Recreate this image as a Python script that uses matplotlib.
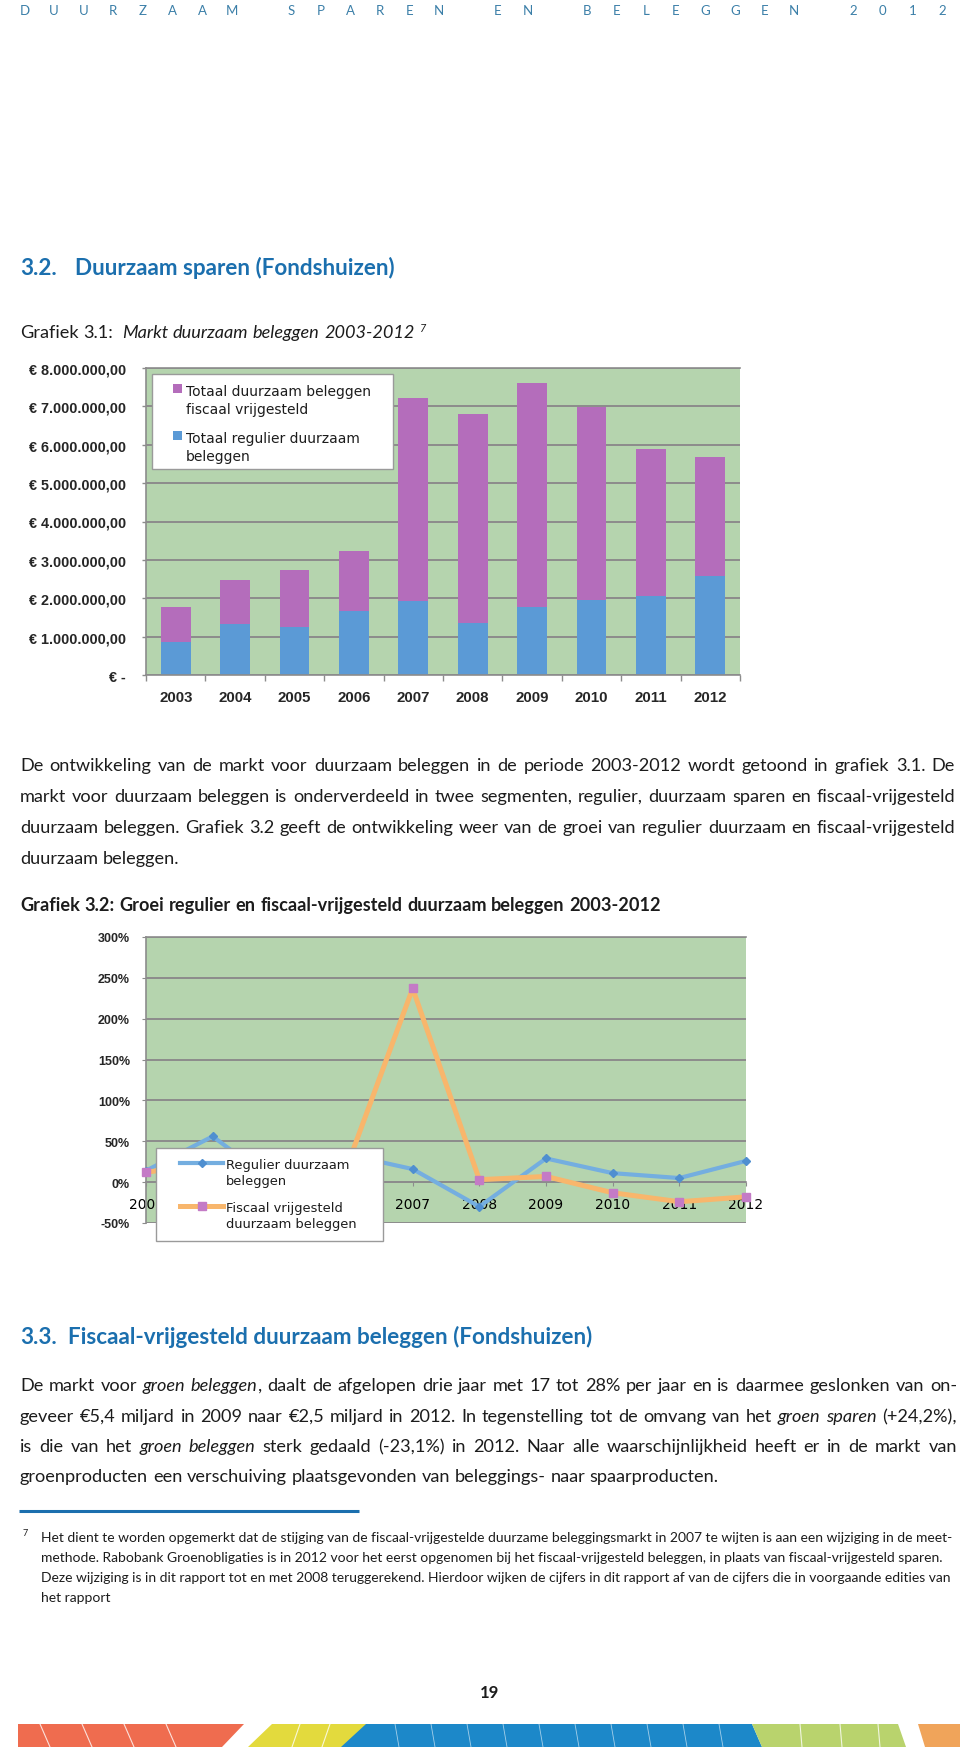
import numpy as np
import matplotlib
matplotlib.use('Agg')
import matplotlib.pyplot as plt
from matplotlib.patches import Rectangle, Polygon
from matplotlib.lines import Line2D

# ---------------- data ----------------
years = ['2003', '2004', '2005', '2006', '2007', '2008', '2009', '2010', '2011', '2012']
regulier_eur = [850000, 1330000, 1260000, 1680000, 1940000, 1360000, 1770000, 1960000, 2050000, 2570000]
fiscaal_eur = [930000, 1150000, 1480000, 1560000, 5280000, 5440000, 5840000, 5020000, 3830000, 3100000]
groei_regulier = [14, 56, -5, 34, 16, -30, 29, 11, 5, 26]
groei_fiscaal = [12, 24, 29, 16, 237, 3, 7, -13, -24, -18]
legend1_labels = ['Totaal duurzaam beleggen\nfiscaal vrijgesteld', 'Totaal regulier duurzaam\nbeleggen']
legend2_labels = ['Regulier duurzaam\nbeleggen', 'Fiscaal vrijgesteld\nduurzaam beleggen']

W, H = 960, 1758
GREEN = '#b5d4ae'
GRID = '#8c8c8c'
BLUE = '#5b9ad6'
MAGENTA = '#b46dbb'
LBLUE = '#74aee0'
DBLUE = '#4f8fd0'
ORANGE = '#f8b66c'
PINK = '#c47bc6'
TXT = '#1c1c1c'
HBLUE = '#1b6fae'
LABFONT = 'Liberation Sans'

fig = plt.figure(figsize=(W / 100, H / 100), dpi=100)
fig.patch.set_facecolor('white')


def px_axes(l, t, r, b, **kw):
    return fig.add_axes([l / W, 1 - b / H, (r - l) / W, (b - t) / H], **kw)


def euro_label(v):
    if abs(v) < 1:
        return '€ -'
    s = f"{v:,.2f}"
    s = s.replace(',', 'X').replace('.', ',').replace('X', '.')
    return '€ ' + s


# ---------------- chart 1 ----------------
ax1 = px_axes(146, 369, 740, 676)
ax1.set_facecolor(GREEN)
x = np.arange(len(years))
ax1.bar(x, regulier_eur, 0.5, color=BLUE, zorder=2)
ax1.bar(x, fiscaal_eur, 0.5, bottom=regulier_eur, color=MAGENTA, zorder=2)
ax1.set_xlim(-0.5, len(years) - 0.5)
ax1.set_ylim(0, 8e6)
yt = np.arange(0, 8e6 + 1, 1e6)
ax1.set_yticks(yt, [euro_label(v) for v in yt], fontsize=10.4, fontweight='bold',
               fontfamily=LABFONT, color='#262626')
ax1.yaxis.grid(True, color=GRID, lw=1.4, zorder=1)
ax1.set_axisbelow(True)
ax1.set_xticks(x, years, fontsize=10.8, fontweight='bold', fontfamily=LABFONT, color='#262626')
ax1.set_xticks(np.arange(-0.5, len(years), 1), minor=True)
ax1.tick_params(axis='x', which='major', length=0, pad=11)
ax1.tick_params(axis='x', which='minor', length=4, color=GRID, width=1)
ax1.tick_params(axis='y', length=3, color=GRID, width=1, pad=11.5)
for s in ['left', 'bottom', 'top']:
    ax1.spines[s].set_color(GRID)
    ax1.spines[s].set_linewidth(1.2)
ax1.spines['right'].set_visible(False)

# ---------------- chart 2 ----------------
C2L, C2R = 146, 746
ax2 = px_axes(C2L, 938, C2R, 1224)
ax2.set_facecolor(GREEN)
ax2.plot(x, groei_regulier, color=LBLUE, lw=3, marker='D', ms=4.5, mfc=DBLUE, mec=DBLUE,
         zorder=3, clip_on=False)
ax2.plot(x, groei_fiscaal, color=ORANGE, lw=3.6, marker='s', ms=5.5, mfc=PINK, mec=PINK,
         zorder=4, clip_on=False)
ax2.set_xlim(0, len(years) - 1)
ax2.set_ylim(-50, 300)
yt2 = np.arange(-50, 301, 50)
ax2.set_yticks(yt2, [f"{int(v)}%" for v in yt2], fontsize=9, fontweight='bold',
               fontfamily=LABFONT, color='#262626')
ax2.yaxis.grid(True, color=GRID, lw=1.4, zorder=1)
ax2.set_axisbelow(True)
ax2.set_xticks(x, years, fontsize=9.7, fontweight='bold', fontfamily=LABFONT, color='#262626')
ax2.spines['bottom'].set_position(('data', 0))
ax2.tick_params(axis='x', length=3, color=GRID, pad=8)
ax2.tick_params(axis='y', length=3, color=GRID, pad=8.6)
for s in ['left', 'bottom', 'top']:
    ax2.spines[s].set_color(GRID)
    ax2.spines[s].set_linewidth(1.2)
ax2.spines['right'].set_visible(False)

# legend box of chart 2 (pixel coords) -- labels fully behind it are not visible
LEG2 = (156, 1149, 383, 1242)
for i, lab in enumerate(ax2.get_xticklabels()):
    px = C2L + i * (C2R - C2L) / (len(years) - 1)
    if LEG2[0] + 8 < px < LEG2[2]:
        lab.set_visible(False)

# ---------------- page overlay ----------------
page = fig.add_axes([0, 0, 1, 1], zorder=10)
page.set_xlim(0, W)
page.set_ylim(H, 0)
page.axis('off')

R = fig.canvas.get_renderer()


def kw_of(kind, family='Lato'):
    d = dict(fontfamily=family)
    if 'i' in kind:
        d['fontstyle'] = 'italic'
    if 'b' in kind:
        d['fontweight'] = 'bold'
    return d


_pipe = {}


def width(s, size, kind='n', family='Lato'):
    key = (size, kind, family)
    if key not in _pipe:
        t = page.text(0, 0, '||', fontsize=size, **kw_of(kind, family))
        _pipe[key] = t.get_window_extent(R).width
        t.remove()
    t = page.text(0, 0, '|' + s + '|', fontsize=size, **kw_of(kind, family))
    w = t.get_window_extent(R).width
    t.remove()
    return w - _pipe[key]


def words_of(runs):
    words = [[]]
    for text, kind in runs:
        for ch in text:
            if ch == ' ':
                if words[-1]:
                    words.append([])
            else:
                if words[-1] and words[-1][-1][1] == kind:
                    words[-1][-1][0] += ch
                else:
                    words[-1].append([ch, kind])
    return [w for w in words if w]


def natural(runs, size, family='Lato'):
    ws = words_of(runs)
    tot = sum(width(s, size, k, family) for w in ws for s, k in w)
    return tot + width(' ', size, runs[0][1], family) * (len(ws) - 1)


def draw_line(x0, yb, runs, size, right=None, color=TXT, family='Lato'):
    ws = words_of(runs)
    wl = [[(s, k, width(s, size, k, family)) for s, k in w] for w in ws]
    tot = sum(p[2] for w in wl for p in w)
    if right is not None and len(ws) > 1:
        gap = (right - x0 - tot) / (len(ws) - 1)
    else:
        gap = width(' ', size, 'n', family)
    xx = x0
    for w in wl:
        for s, k, wd in w:
            page.text(xx, yb, s, fontsize=size, va='baseline', ha='left', color=color,
                      **kw_of(k, family))
            xx += wd
        xx += gap
    return xx - gap


# header (spaced capitals)
header = 'DUURZAAM SPAREN EN BELEGGEN 2012'
pitch = (942 - 24.5) / (len(header) - 1)
for i, ch in enumerate(header):
    if ch != ' ':
        page.text(24.5 + pitch * i, 15, ch, fontsize=9.5, fontfamily='Lato', color='#3b7fa8',
                  ha='center', va='baseline')

# headings
h2 = 'Fiscaal-vrijgesteld duurzaam beleggen (Fondshuizen)'
hsize = 14.0 * (598 - 68) / width(h2, 14.0, 'b')
page.text(20, 275, '3.2.', fontsize=hsize, color=HBLUE, va='baseline', **kw_of('b'))
page.text(75, 275, 'Duurzaam sparen (Fondshuizen)', fontsize=hsize, color=HBLUE, va='baseline',
          **kw_of('b'))
page.text(20, 1344, '3.3.', fontsize=hsize, color=HBLUE, va='baseline', **kw_of('b'))
page.text(68, 1344, h2, fontsize=hsize, color=HBLUE, va='baseline', **kw_of('b'))

# body paragraphs
para1 = [
    [('De ontwikkeling van de markt voor duurzaam beleggen in de periode 2003-2012 wordt getoond in grafiek 3.1. De', 'n')],
    [('markt voor duurzaam beleggen is onderverdeeld in twee segmenten, regulier, duurzaam sparen en fiscaal-vrijgesteld', 'n')],
    [('duurzaam beleggen. Grafiek 3.2 geeft de ontwikkeling weer van de groei van regulier duurzaam en fiscaal-vrijgesteld', 'n')],
    [('duurzaam beleggen.', 'n')],
]
para2 = [
    [('De markt voor ', 'n'), ('groen beleggen', 'i'),
     (', daalt de afgelopen drie jaar met 17 tot 28% per jaar en is  daarmee geslonken van on-', 'n')],
    [('geveer €5,4 miljard in 2009 naar €2,5 miljard in 2012. In tegenstelling tot de omvang van het ', 'n'),
     ('groen sparen', 'i'), (' (+24,2%),', 'n')],
    [('is die van het ', 'n'), ('groen beleggen', 'i'),
     (' sterk gedaald (-23,1%) in 2012. Naar alle waarschijnlijkheid heeft er in de markt van', 'n')],
    [('groenproducten een verschuiving plaatsgevonden van beleggings- naar spaarproducten.', 'n')],
]
bsize = 12.3
mx = max(natural(l, bsize) for l in para1[:3] + para2[:3])
bsize = min(bsize * 928 / mx, 13.6)
for i, (line, yb) in enumerate(zip(para1, [771, 802, 833, 864])):
    draw_line(20, yb, line, bsize, right=955 if i < 3 else None)
for i, (line, yb) in enumerate(zip(para2, [1391, 1422, 1452, 1482])):
    draw_line(20, yb, line, bsize, right=957 if i < 3 else None)

# chart captions
draw_line(20, 338, [('Grafiek 3.1:', 'n')], bsize)
end = draw_line(122, 338, [('Markt duurzaam beleggen 2003-2012', 'i')], bsize)
page.text(end + 5, 332, '7', fontsize=bsize * 0.6, fontfamily='Lato', fontstyle='italic',
          color=TXT, va='baseline')
cap2 = 'Grafiek 3.2: Groei regulier en fiscaal-vrijgesteld duurzaam beleggen 2003-2012'
csize = bsize * (662 - 20) / natural([(cap2, 'b')], bsize)
draw_line(20, 911, [(cap2, 'b')], csize)

# footnote
page.plot([19, 359], [1512, 1512], color=HBLUE, lw=2.2, solid_capstyle='butt')
foot = [
    'Het dient te worden opgemerkt dat de stijging van de fiscaal-vrijgestelde duurzame beleggingsmarkt in 2007 te wijten is aan een wijziging in de meet-',
    'methode. Rabobank Groenobligaties is in 2012 voor het eerst opgenomen bij het fiscaal-vrijgesteld beleggen, in plaats van fiscaal-vrijgesteld sparen.',
    'Deze wijziging is in dit rapport tot en met 2008 teruggerekend. Hierdoor wijken de cijfers in dit rapport af van de cijfers die in voorgaande edities van',
    'het rapport',
]
fsize = 9.0 * (955 - 41) / width(foot[0], 9.0)
page.text(23, 1536, '7', fontsize=fsize * 0.65, fontfamily='Lato', color=TXT, va='baseline')
for line, yb in zip(foot, [1542, 1562, 1582, 1602]):
    page.text(41, yb, line, fontsize=fsize, fontfamily='Lato', color=TXT, va='baseline')

# page number
page.text(490, 1698, '19', fontsize=12, fontfamily='Lato', fontweight='bold', color=TXT,
          ha='center', va='baseline')

# ---------------- legends (drawn on overlay) ----------------
LEGFONT = 'DejaVu Sans'
page.add_patch(Rectangle((152, 375), 241, 95, facecolor='white', edgecolor='#9a9a9a', lw=1))
for (lab, col, yy) in zip(legend1_labels, [MAGENTA, BLUE], [389, 436]):
    page.add_patch(Rectangle((173, yy - 4.5), 9, 9, facecolor=col, edgecolor='none'))
    for j, sub in enumerate(lab.split('\n')):
        page.text(186, yy + 7 + j * 18.5, sub, fontsize=10, fontfamily=LEGFONT, color=TXT,
                  va='baseline')

page.add_patch(Rectangle((LEG2[0], LEG2[1]), LEG2[2] - LEG2[0], LEG2[3] - LEG2[1],
                         facecolor='white', edgecolor='#9a9a9a', lw=1))
leg2 = [(legend2_labels[0], LBLUE, 3, 'D', 4.5, DBLUE, 1164),
        (legend2_labels[1], ORANGE, 3.6, 's', 5.5, PINK, 1207)]
for lab, lc, lw, mk, ms, mc, yy in leg2:
    page.add_line(Line2D([180, 223], [yy, yy], color=lc, lw=lw))
    page.add_line(Line2D([201.5], [yy], marker=mk, ms=ms, mfc=mc, mec=mc, lw=0))
    for j, sub in enumerate(lab.split('\n')):
        page.text(226, yy + 5 + j * 16.5, sub, fontsize=9.4, fontfamily=LEGFONT, color=TXT,
                  va='baseline')

# ---------------- decorative colour band ----------------
top, bot = 1725, 1748
band = [
    ('#ef6c4f', [(18, top), (244, top), (222, bot), (18, bot)]),
    ('#e3da3d', [(272, top), (372, top), (356, bot), (248, bot)]),
    ('#1c88c9', [(366, top), (752, top), (762, bot), (341, bot)]),
    ('#b9d36d', [(752, top), (898, top), (906, bot), (762, bot)]),
    ('#f0a45a', [(918, top), (960, top), (960, bot), (925, bot)]),
]
for col, pts in band:
    page.add_patch(Polygon(pts, closed=True, facecolor=col, edgecolor='none'))
for xs in [40, 82, 124, 166]:
    page.add_line(Line2D([xs, xs + 10], [top, bot], color='white', lw=0.8, alpha=0.8))
for xs in [300, 330]:
    page.add_line(Line2D([xs, xs - 8], [top, bot], color='white', lw=0.8, alpha=0.8))
for xs in np.arange(395, 745, 36):
    page.add_line(Line2D([xs, xs + 4], [top, bot], color='white', lw=0.6, alpha=0.6))
for xs in [800, 840, 878]:
    page.add_line(Line2D([xs, xs + 2], [top, bot], color='white', lw=0.8, alpha=0.8))

fig.savefig('out.png', dpi=100, facecolor='white')
